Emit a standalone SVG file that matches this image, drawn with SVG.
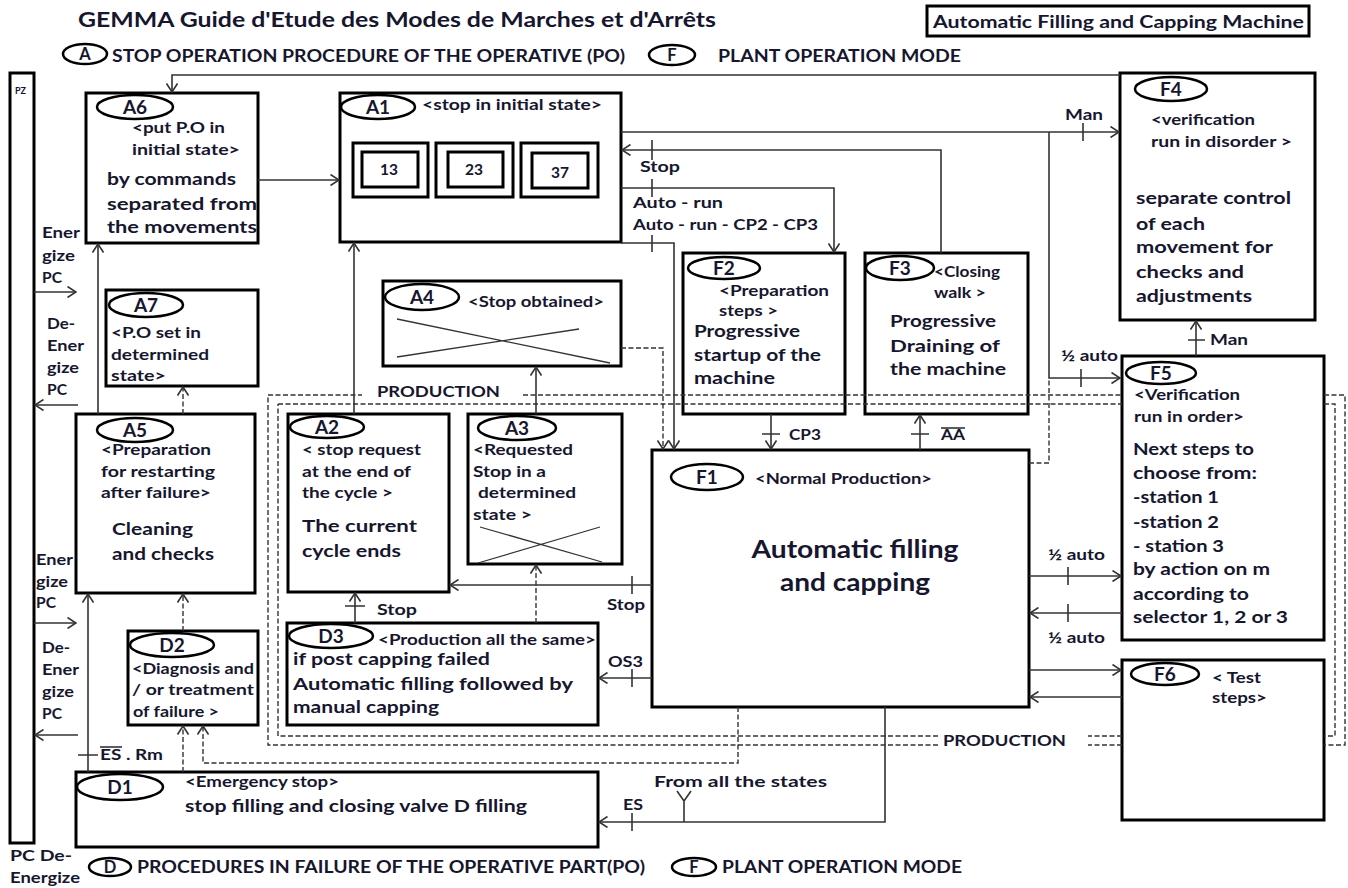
<svg xmlns="http://www.w3.org/2000/svg" width="1348" height="888" viewBox="0 0 1348 888">
<style>
.box{fill:#fff;stroke:#000;stroke-width:3}
.in{fill:none;stroke:#000;stroke-width:3}
.ell{fill:#fff;stroke:#000;stroke-width:2.5}
.ln{fill:none;stroke:#333;stroke-width:1.6}
.x{fill:none;stroke:#333;stroke-width:1.3}
.dash{fill:none;stroke:#333;stroke-width:1.4;stroke-dasharray:5 2.5}
.arr{marker-end:url(#ah)}
text{font-family:Lato,"Liberation Sans",Arial,sans-serif;font-weight:bold;fill:#16162e}
.ttl{font-size:21px}
.lg{font-size:16.5px}
.id{font-size:19px;text-anchor:middle}
.b{font-size:17px}
.s{font-size:15.5px}
.xs{font-size:14.5px}
.c{font-size:14.5px}
.big{font-size:25px;text-anchor:middle}
.pz{font-size:9px}
</style>
<defs>
<marker id="ah" viewBox="0 0 10 12" refX="9" refY="6" markerWidth="10" markerHeight="12" markerUnits="userSpaceOnUse" orient="auto">
<path d="M0.5,0.5 L9,6 L0.5,11.5" fill="none" stroke="#333" stroke-width="1.6"/>
</marker>
</defs>
<rect width="1348" height="888" fill="#fff"/>

<!-- heading and legends -->
<g id="header">
<text class="ttl" x="78" y="27" textLength="638" lengthAdjust="spacingAndGlyphs">GEMMA Guide d'Etude des Modes de Marches et d'Arrêts</text>
<rect x="927" y="6" width="382" height="30" fill="none" stroke="#000" stroke-width="3"/>
<text class="lg" x="933" y="28" textLength="371" lengthAdjust="spacingAndGlyphs">Automatic Filling and Capping Machine</text>
<ellipse class="ell" cx="85" cy="54" rx="22" ry="10"/>
<text class="lg" x="85" y="60" text-anchor="middle">A</text>
<text class="lg" x="112" y="62" textLength="513" lengthAdjust="spacingAndGlyphs">STOP OPERATION  PROCEDURE OF THE OPERATIVE (PO)</text>
<ellipse class="ell" cx="672" cy="55" rx="23" ry="10"/>
<text class="lg" x="672" y="61" text-anchor="middle">F</text>
<text class="lg" x="718" y="62" textLength="243" lengthAdjust="spacingAndGlyphs">PLANT OPERATION  MODE</text>
</g>

<g id="footer">
<text class="c" x="10" y="861" textLength="62" lengthAdjust="spacingAndGlyphs">PC   De-</text>
<text class="c" x="10" y="883" textLength="70" lengthAdjust="spacingAndGlyphs">Energize</text>
<ellipse class="ell" cx="110" cy="867" rx="21" ry="9"/>
<text class="lg" x="110" y="873" text-anchor="middle">D</text>
<text class="lg" x="137" y="873" textLength="508" lengthAdjust="spacingAndGlyphs">PROCEDURES  IN  FAILURE  OF  THE  OPERATIVE  PART(PO)</text>
<ellipse class="ell" cx="694" cy="867" rx="22" ry="9"/>
<text class="lg" x="694" y="873" text-anchor="middle">F</text>
<text class="lg" x="722" y="873" textLength="240" lengthAdjust="spacingAndGlyphs">PLANT OPERATION  MODE</text>
</g>

<!-- power supply column -->
<g id="PZ">
<rect x="10" y="73" width="24" height="770" fill="#fff" stroke="#000" stroke-width="3"/>
<text class="pz" x="15" y="94">PZ</text>
<text class="c" x="42" y="238" textLength="38" lengthAdjust="spacingAndGlyphs">Ener</text>
<text class="c" x="42" y="261" textLength="33" lengthAdjust="spacingAndGlyphs">gize</text>
<text class="c" x="42" y="283" textLength="20" lengthAdjust="spacingAndGlyphs">PC</text>
<text class="c" x="47" y="329" textLength="28" lengthAdjust="spacingAndGlyphs">De-</text>
<text class="c" x="47" y="351" textLength="37" lengthAdjust="spacingAndGlyphs">Ener</text>
<text class="c" x="47" y="373" textLength="32" lengthAdjust="spacingAndGlyphs">gize</text>
<text class="c" x="47" y="395" textLength="20" lengthAdjust="spacingAndGlyphs">PC</text>
<text class="c" x="36" y="565" textLength="37" lengthAdjust="spacingAndGlyphs">Ener</text>
<text class="c" x="36" y="587" textLength="32" lengthAdjust="spacingAndGlyphs">gize</text>
<text class="c" x="36" y="608" textLength="20" lengthAdjust="spacingAndGlyphs">PC</text>
<text class="c" x="42" y="653" textLength="28" lengthAdjust="spacingAndGlyphs">De-</text>
<text class="c" x="42" y="675" textLength="37" lengthAdjust="spacingAndGlyphs">Ener</text>
<text class="c" x="42" y="697" textLength="32" lengthAdjust="spacingAndGlyphs">gize</text>
<text class="c" x="42" y="719" textLength="20" lengthAdjust="spacingAndGlyphs">PC</text>
</g>

<!-- A family: stop procedures -->
<g id="A6">
<rect class="box" x="86" y="93" width="172" height="150"/>
<ellipse class="ell" cx="135" cy="107" rx="38" ry="12"/>
<text class="id" x="135" y="114">A6</text>
<text class="s" x="132" y="133" textLength="93" lengthAdjust="spacingAndGlyphs">&lt;put P.O in</text>
<text class="s" x="132" y="155" textLength="108" lengthAdjust="spacingAndGlyphs">initial state&gt;</text>
<text class="b" x="107" y="185" textLength="129" lengthAdjust="spacingAndGlyphs">by commands</text>
<text class="b" x="107" y="210" textLength="150" lengthAdjust="spacingAndGlyphs">separated  from</text>
<text class="b" x="107" y="233" textLength="150" lengthAdjust="spacingAndGlyphs">the movements</text>
</g>

<g id="A1">
<rect class="box" x="340" y="93" width="281" height="149"/>
<ellipse class="ell" cx="378" cy="107" rx="37" ry="12"/>
<text class="id" x="378" y="114">A1</text>
<text class="xs" x="422" y="110" textLength="180" lengthAdjust="spacingAndGlyphs">&lt;stop in initial  state&gt;</text>
<rect class="in" x="353" y="143" width="75" height="54"/>
<rect class="in" x="362" y="152" width="56" height="35"/>
<text class="s" x="389" y="175" text-anchor="middle">13</text>
<rect class="in" x="436" y="143" width="77" height="54"/>
<rect class="in" x="448" y="152" width="55" height="35"/>
<text class="s" x="474" y="175" text-anchor="middle">23</text>
<rect class="in" x="521" y="143" width="77" height="54"/>
<rect class="in" x="532" y="153" width="56" height="35"/>
<text class="s" x="560" y="178" text-anchor="middle">37</text>
</g>

<g id="A7">
<rect class="box" x="106" y="290" width="152" height="96"/>
<ellipse class="ell" cx="146" cy="305" rx="37" ry="12"/>
<text class="id" x="146" y="312">A7</text>
<text class="s" x="111" y="338" textLength="90" lengthAdjust="spacingAndGlyphs">&lt;P.O set in</text>
<text class="s" x="111" y="360" textLength="98" lengthAdjust="spacingAndGlyphs">determined</text>
<text class="s" x="111" y="381" textLength="55" lengthAdjust="spacingAndGlyphs">state&gt;</text>
</g>

<g id="A4">
<rect class="box" x="383" y="281" width="238" height="85"/>
<ellipse class="ell" cx="422" cy="297" rx="37" ry="13"/>
<text class="id" x="422" y="304">A4</text>
<text class="xs" x="468" y="307" textLength="136" lengthAdjust="spacingAndGlyphs">&lt;Stop obtained&gt;</text>
<path class="x" d="M397,319 L610,363 M397,357 L579,329"/>
</g>

<g id="A5">
<rect class="box" x="76" y="414" width="179" height="179"/>
<ellipse class="ell" cx="135" cy="430" rx="38" ry="12"/>
<text class="id" x="135" y="437">A5</text>
<text class="s" x="101" y="455" textLength="110" lengthAdjust="spacingAndGlyphs">&lt;Preparation</text>
<text class="s" x="101" y="477" textLength="114" lengthAdjust="spacingAndGlyphs">for restarting</text>
<text class="s" x="101" y="498" textLength="110" lengthAdjust="spacingAndGlyphs">after failure&gt;</text>
<text class="b" x="112" y="535" textLength="81" lengthAdjust="spacingAndGlyphs">Cleaning</text>
<text class="b" x="112" y="560" textLength="102" lengthAdjust="spacingAndGlyphs">and checks</text>
</g>

<g id="A2">
<rect class="box" x="288" y="414" width="161" height="178"/>
<ellipse class="ell" cx="327" cy="427" rx="37" ry="11"/>
<text class="id" x="327" y="434">A2</text>
<text class="s" x="302" y="455" textLength="119" lengthAdjust="spacingAndGlyphs">&lt; stop request</text>
<text class="s" x="302" y="477" textLength="109" lengthAdjust="spacingAndGlyphs">at the end of</text>
<text class="s" x="302" y="498" textLength="91" lengthAdjust="spacingAndGlyphs">the cycle &gt;</text>
<text class="b" x="302" y="532" textLength="115" lengthAdjust="spacingAndGlyphs">The  current</text>
<text class="b" x="302" y="557" textLength="99" lengthAdjust="spacingAndGlyphs">cycle ends</text>
</g>

<g id="A3">
<rect class="box" x="468" y="414" width="154" height="150"/>
<ellipse class="ell" cx="517" cy="428" rx="39" ry="12"/>
<text class="id" x="517" y="435">A3</text>
<text class="s" x="473" y="455" textLength="100" lengthAdjust="spacingAndGlyphs">&lt;Requested</text>
<text class="s" x="473" y="477" textLength="73" lengthAdjust="spacingAndGlyphs">Stop in a</text>
<text class="s" x="478" y="498" textLength="98" lengthAdjust="spacingAndGlyphs">determined</text>
<text class="s" x="473" y="520" textLength="59" lengthAdjust="spacingAndGlyphs">state &gt;</text>
<path class="x" d="M480,527 L602,562 M478,563 L600,527"/>
</g>

<!-- D family: failure procedures -->
<g id="D2">
<rect class="box" x="128" y="631" width="130" height="94"/>
<ellipse class="ell" cx="172" cy="645" rx="42" ry="12"/>
<text class="id" x="172" y="652">D2</text>
<text class="xs" x="132" y="674" textLength="122" lengthAdjust="spacingAndGlyphs">&lt;Diagnosis and</text>
<text class="xs" x="132" y="695" textLength="122" lengthAdjust="spacingAndGlyphs">/ or treatment</text>
<text class="xs" x="133" y="717" textLength="86" lengthAdjust="spacingAndGlyphs">of failure &gt;</text>
</g>

<g id="D3">
<rect class="box" x="287" y="623" width="311" height="102"/>
<ellipse class="ell" cx="331" cy="636" rx="42" ry="12"/>
<text class="id" x="331" y="643">D3</text>
<text class="xs" x="378" y="645" textLength="218" lengthAdjust="spacingAndGlyphs">&lt;Production  all  the same&gt;</text>
<text class="b" x="293" y="665" textLength="197" lengthAdjust="spacingAndGlyphs">if post capping failed</text>
<text class="b" x="293" y="690" textLength="280" lengthAdjust="spacingAndGlyphs">Automatic  filling followed by</text>
<text class="b" x="293" y="713" textLength="146" lengthAdjust="spacingAndGlyphs">manual capping</text>
</g>

<g id="D1">
<rect class="box" x="76" y="772" width="522" height="75"/>
<ellipse class="ell" cx="120" cy="787" rx="43" ry="13"/>
<text class="id" x="120" y="794">D1</text>
<text class="s" x="185" y="787" textLength="154" lengthAdjust="spacingAndGlyphs">&lt;Emergency stop&gt;</text>
<text class="b" x="185" y="812" textLength="342" lengthAdjust="spacingAndGlyphs">stop filling and closing valve D filling</text>
</g>

<!-- F family: operating modes -->
<g id="F2">
<rect class="box" x="683" y="253" width="162" height="161"/>
<ellipse class="ell" cx="724" cy="268" rx="36" ry="11"/>
<text class="id" x="724" y="275">F2</text>
<text class="xs" x="719" y="296" textLength="110" lengthAdjust="spacingAndGlyphs">&lt;Preparation</text>
<text class="xs" x="719" y="316" textLength="59" lengthAdjust="spacingAndGlyphs">steps &gt;</text>
<text class="b" x="694" y="337" textLength="106" lengthAdjust="spacingAndGlyphs">Progressive</text>
<text class="b" x="694" y="361" textLength="127" lengthAdjust="spacingAndGlyphs">startup of the</text>
<text class="b" x="694" y="384" textLength="81" lengthAdjust="spacingAndGlyphs">machine</text>
</g>

<g id="F3">
<rect class="box" x="865" y="253" width="163" height="161"/>
<ellipse class="ell" cx="900" cy="268" rx="34" ry="12"/>
<text class="id" x="900" y="275">F3</text>
<text class="xs" x="934" y="277" textLength="66" lengthAdjust="spacingAndGlyphs">&lt;Closing</text>
<text class="xs" x="934" y="298" textLength="52" lengthAdjust="spacingAndGlyphs">walk &gt;</text>
<text class="b" x="890" y="327" textLength="106" lengthAdjust="spacingAndGlyphs">Progressive</text>
<text class="b" x="890" y="352" textLength="110" lengthAdjust="spacingAndGlyphs">Draining  of</text>
<text class="b" x="890" y="375" textLength="116" lengthAdjust="spacingAndGlyphs">the machine</text>
</g>

<g id="F4">
<rect class="box" x="1120" y="73" width="195" height="247"/>
<ellipse class="ell" cx="1171" cy="89" rx="36" ry="12"/>
<text class="id" x="1171" y="96">F4</text>
<text class="s" x="1151" y="125" textLength="104" lengthAdjust="spacingAndGlyphs">&lt;verification</text>
<text class="s" x="1151" y="147" textLength="141" lengthAdjust="spacingAndGlyphs">run in disorder  &gt;</text>
<text class="b" x="1136" y="204" textLength="155" lengthAdjust="spacingAndGlyphs">separate control</text>
<text class="b" x="1136" y="230" textLength="69" lengthAdjust="spacingAndGlyphs">of each</text>
<text class="b" x="1136" y="253" textLength="137" lengthAdjust="spacingAndGlyphs">movement for</text>
<text class="b" x="1136" y="278" textLength="108" lengthAdjust="spacingAndGlyphs">checks  and</text>
<text class="b" x="1136" y="302" textLength="116" lengthAdjust="spacingAndGlyphs">adjustments</text>
</g>

<g id="F5">
<rect class="box" x="1122" y="356" width="202" height="284"/>
<ellipse class="ell" cx="1161" cy="373" rx="35" ry="11"/>
<text class="id" x="1161" y="380">F5</text>
<text class="s" x="1134" y="400" textLength="106" lengthAdjust="spacingAndGlyphs">&lt;Verification</text>
<text class="s" x="1134" y="422" textLength="110" lengthAdjust="spacingAndGlyphs">run in order&gt;</text>
<text class="b" x="1133" y="455" textLength="121" lengthAdjust="spacingAndGlyphs">Next steps to</text>
<text class="b" x="1133" y="479" textLength="124" lengthAdjust="spacingAndGlyphs">choose from:</text>
<text class="b" x="1133" y="503" textLength="86" lengthAdjust="spacingAndGlyphs">-station 1</text>
<text class="b" x="1133" y="528" textLength="86" lengthAdjust="spacingAndGlyphs">-station 2</text>
<text class="b" x="1133" y="552" textLength="91" lengthAdjust="spacingAndGlyphs">- station  3</text>
<text class="b" x="1133" y="575" textLength="137" lengthAdjust="spacingAndGlyphs">by action on  m</text>
<text class="b" x="1133" y="600" textLength="116" lengthAdjust="spacingAndGlyphs">according to</text>
<text class="b" x="1133" y="623" textLength="155" lengthAdjust="spacingAndGlyphs">selector 1, 2 or 3</text>
</g>

<g id="F6">
<rect class="box" x="1122" y="660" width="202" height="160"/>
<ellipse class="ell" cx="1165" cy="674" rx="34" ry="11"/>
<text class="id" x="1165" y="681">F6</text>
<text class="s" x="1212" y="683" textLength="49" lengthAdjust="spacingAndGlyphs">&lt; Test</text>
<text class="s" x="1212" y="703" textLength="55" lengthAdjust="spacingAndGlyphs">steps&gt;</text>
</g>

<g id="F1">
<rect class="box" x="652" y="450" width="377" height="257"/>
<ellipse class="ell" cx="707" cy="477" rx="36" ry="13"/>
<text class="id" x="707" y="484">F1</text>
<text class="xs" x="755" y="484" textLength="177" lengthAdjust="spacingAndGlyphs">&lt;Normal Production&gt;</text>
<text class="big" x="855" y="558" textLength="207" lengthAdjust="spacingAndGlyphs">Automatic filling</text>
<text class="big" x="855" y="591" textLength="150" lengthAdjust="spacingAndGlyphs">and capping</text>
</g>

<!-- connectors, transitions and production frames -->
<g id="connectors">
<!-- production frames -->
<path class="dash" d="M523,395 H1122 M1324,395 H1345 V745 H1324 M1122,745 H1088 M938,745 H268 V395 H362"/>
<path class="dash" d="M278,404 H1122 M1324,404 H1335 V736 H1324 M1122,736 H1088 M938,736 H278 V404"/>
<text class="s" x="377" y="397" textLength="123" lengthAdjust="spacingAndGlyphs">PRODUCTION</text>
<text class="s" x="943" y="746" textLength="123" lengthAdjust="spacingAndGlyphs">PRODUCTION</text>

<!-- solid links -->
<path class="ln arr" d="M1120,75 H172 V92"/>
<path class="ln arr" d="M258,180 H339"/>
<path class="ln arr" d="M621,132 H1119"/>
<path class="ln arr" d="M1049,132 V378 H1120"/>
<path class="ln arr" d="M941,253 V150 H622"/>
<path class="ln arr" d="M621,188 H834 V252"/>
<path class="ln arr" d="M621,243 H674 V449"/>
<path class="ln arr" d="M354,414 V243"/>
<path class="ln arr" d="M536,414 V367"/>
<path class="ln arr" d="M652,585 H450"/>
<path class="ln arr" d="M652,678 H599"/>
<path class="ln arr" d="M355,623 V593"/>
<path class="ln arr" d="M771,414 V449"/>
<path class="ln arr" d="M920,450 V415"/>
<path class="ln arr" d="M1029,576 H1121"/>
<path class="ln arr" d="M1122,613 H1030"/>
<path class="ln arr" d="M1029,670 H1121"/>
<path class="ln arr" d="M1122,697 H1030"/>
<path class="ln arr" d="M1196,356 V321"/>
<path class="ln arr" d="M885,707 V822 H599"/>
<path class="ln" d="M684,822 V801 L677,791 M684,801 L691,791"/>
<path class="ln arr" d="M98,414 V244"/>
<path class="ln arr" d="M88,772 V594"/>
<path class="ln arr" d="M34,292 H76"/>
<path class="ln arr" d="M78,405 H35"/>
<path class="ln arr" d="M34,623 H76"/>
<path class="ln arr" d="M78,735 H35"/>

<!-- dashed links -->
<path class="dash" d="M1029,463 H1049 V378"/>
<path class="dash arr" d="M621,348 H663 V449"/>
<path class="dash arr" d="M536,623 V565"/>
<path class="dash arr" d="M183,414 V387"/>
<path class="dash arr" d="M183,631 V594"/>
<path class="dash arr" d="M183,772 V726"/>
<path class="dash arr" d="M738,707 V763 H203 V726"/>

<!-- transition ticks -->
<path class="ln" d="M1083,123 V141 M1081,369 V387 M652,140 V160 M652,179 V197 M652,235 V252 M632,576 V594 M632,669 V687 M345,606 H365 M762,434 H780 M911,434 H929 M1068,567 V585 M1068,604 V622 M1188,340 H1205 M632,813 V831 M78,755 H98"/>

<!-- transition labels -->
<text class="c" x="1065" y="120" textLength="38" lengthAdjust="spacingAndGlyphs">Man</text>
<text class="c" x="1061" y="361" textLength="57" lengthAdjust="spacingAndGlyphs">½ auto</text>
<text class="c" x="640" y="172" textLength="40" lengthAdjust="spacingAndGlyphs">Stop</text>
<text class="c" x="633" y="208" textLength="90" lengthAdjust="spacingAndGlyphs">Auto  -  run</text>
<text class="c" x="633" y="230" textLength="185" lengthAdjust="spacingAndGlyphs">Auto  -  run  - CP2  -  CP3</text>
<text class="c" x="607" y="610" textLength="38" lengthAdjust="spacingAndGlyphs">Stop</text>
<text class="c" x="608" y="667" textLength="35" lengthAdjust="spacingAndGlyphs">OS3</text>
<text class="c" x="377" y="615" textLength="40" lengthAdjust="spacingAndGlyphs">Stop</text>
<text class="c" x="789" y="440" textLength="32" lengthAdjust="spacingAndGlyphs">CP3</text>
<text class="c" x="941" y="440" textLength="24" lengthAdjust="spacingAndGlyphs">AA</text>
<path class="ln" d="M941,428 H965"/>
<text class="c" x="1048" y="560" textLength="57" lengthAdjust="spacingAndGlyphs">½ auto</text>
<text class="c" x="1048" y="643" textLength="57" lengthAdjust="spacingAndGlyphs">½ auto</text>
<text class="c" x="1210" y="345" textLength="38" lengthAdjust="spacingAndGlyphs">Man</text>
<text class="c" x="654" y="787" textLength="173" lengthAdjust="spacingAndGlyphs">From all the states</text>
<text class="c" x="623" y="810" textLength="20" lengthAdjust="spacingAndGlyphs">ES</text>
<text class="c" x="100" y="760" textLength="63" lengthAdjust="spacingAndGlyphs">ES . Rm</text>
<path class="ln" d="M100,747 H122"/>
</g>
</svg>
